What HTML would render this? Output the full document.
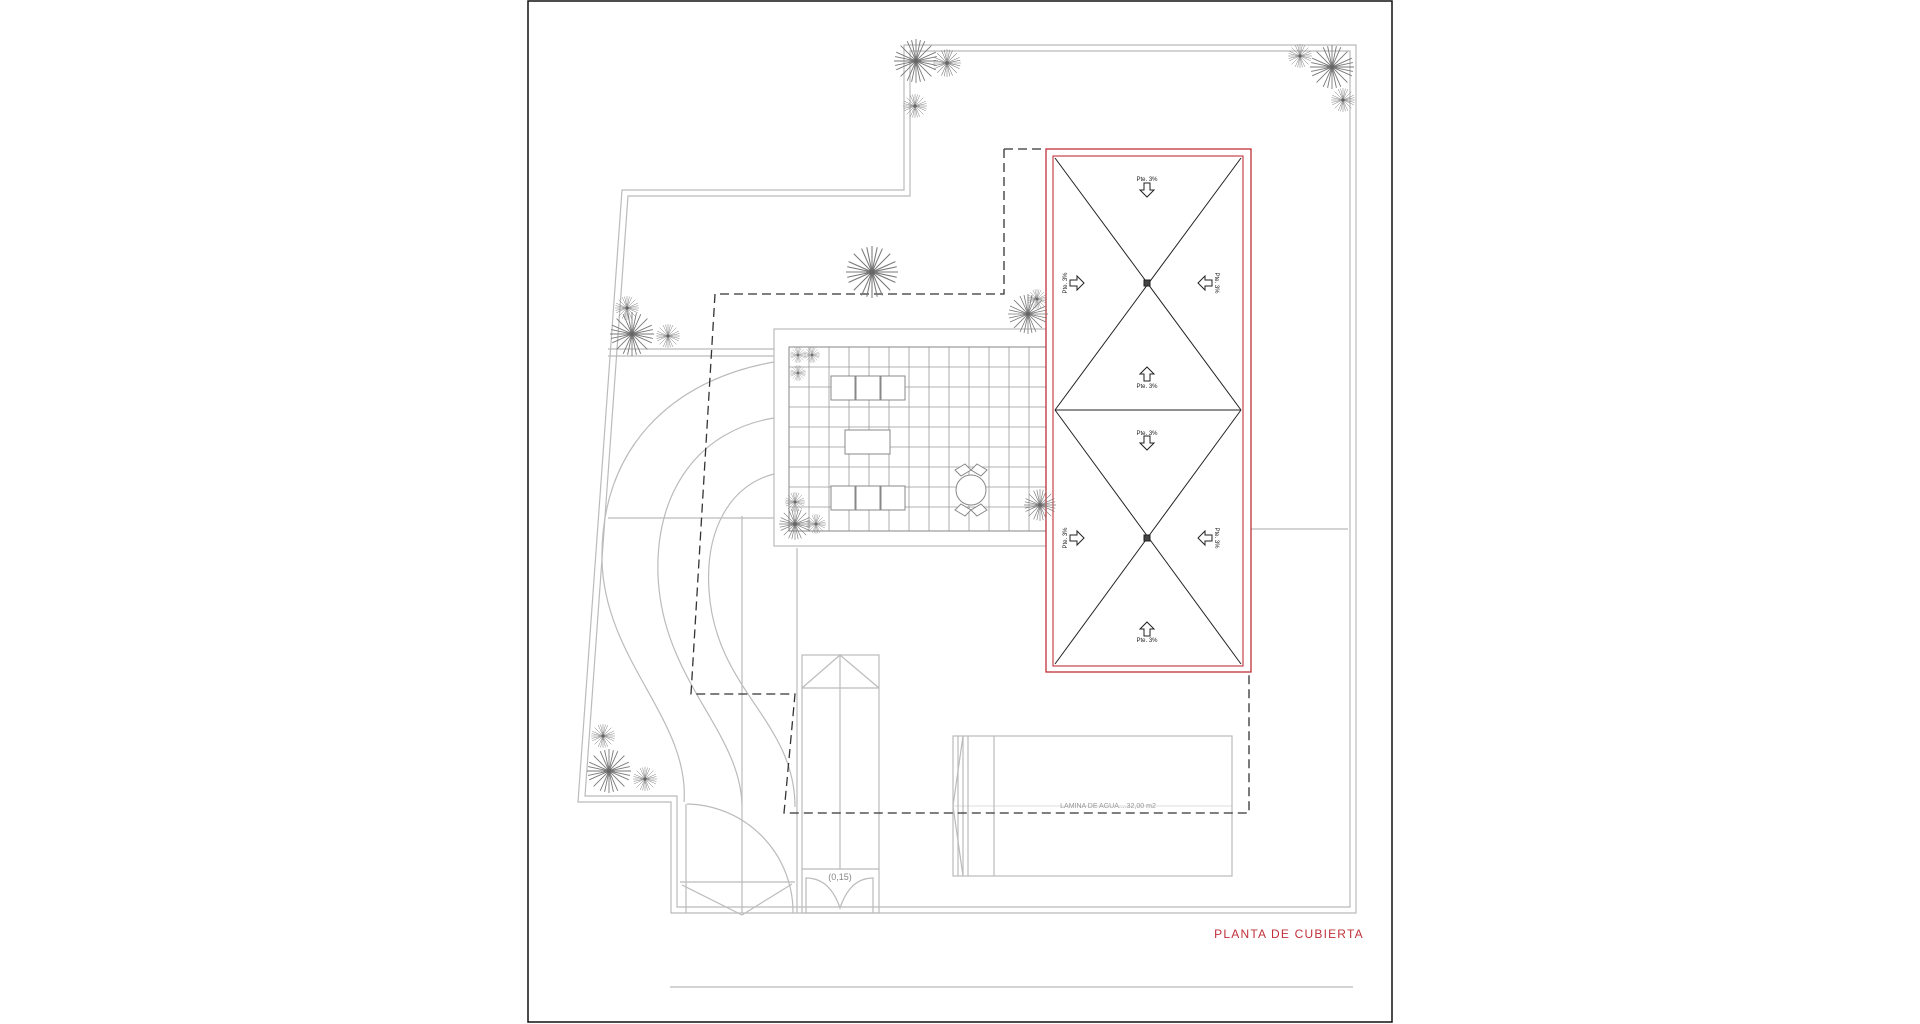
<!DOCTYPE html>
<html><head><meta charset="utf-8"><style>
html,body{margin:0;padding:0;background:#fff;width:1920px;height:1024px;overflow:hidden}
svg{display:block}
text{font-family:"Liberation Sans",sans-serif}
</style></head><body>
<svg width="1920" height="1024" viewBox="0 0 1920 1024" xmlns="http://www.w3.org/2000/svg">
<defs>
<g id="pl" stroke="#777" stroke-width="0.8">
<line x1="-20" y1="0" x2="20" y2="0"/><line x1="0" y1="-20" x2="0" y2="20"/>
<line x1="-14" y1="-14" x2="14" y2="14"/><line x1="-14" y1="14" x2="14" y2="-14"/>
<line x1="-18" y1="-8" x2="18" y2="8"/><line x1="-18" y1="8" x2="18" y2="-8"/>
<line x1="-8" y1="-18" x2="8" y2="18"/><line x1="-8" y1="18" x2="8" y2="-18"/>
<line x1="-19" y1="-4" x2="19" y2="4"/><line x1="-4" y1="-19" x2="4" y2="19"/>
<line x1="-19" y1="4" x2="19" y2="-4"/><line x1="-4" y1="19" x2="4" y2="-19"/>
<circle r="2.5" fill="#666"/>
</g>
<g id="ad" fill="#fff" stroke="#222" stroke-width="1"><path d="M-3,-7 H3 V0 H7 L0,7 L-7,0 H-3 Z"/></g>
</defs>
<rect x="528" y="1" width="864" height="1021" fill="none" stroke="#111" stroke-width="1.5"/>
<g fill="none" stroke="#bbb" stroke-width="1.2">
<path d="M622,190 L904,190 L904,45 L1356,45 L1356,913 L671,913 L671,802 L578,802 Z"/>
<path d="M628,196 L910,196 L910,51 L1350,51 L1350,907 L677,907 L677,796 L585,796 Z"/>
<line x1="608" y1="349" x2="774" y2="349"/><line x1="608" y1="356" x2="774" y2="356"/>
<line x1="608" y1="518" x2="774" y2="518"/>
<line x1="1251" y1="529" x2="1348" y2="529"/>
<path d="M774,362 C670,380 600,450 602,560 C604,660 690,720 684,802"/>
<path d="M774,418 C700,430 655,490 658,575 C662,680 740,730 742,805"/>
<path d="M774,474 C730,485 705,530 709,590 C715,690 795,720 795,807"/>
<line x1="742" y1="516" x2="742" y2="913"/>
<line x1="797" y1="548" x2="797" y2="913"/>
<path d="M687,804 A108,108 0 0 1 793,913"/>
<line x1="680" y1="882" x2="795" y2="882"/>
<path d="M682,885 L742,915 L792,884"/>
<line x1="686" y1="804" x2="686" y2="913"/>
<rect x="802" y="655" width="77" height="258"/>
<line x1="802" y1="688" x2="879" y2="688"/>
<path d="M802,688 L840,655 L879,688"/>
<line x1="840" y1="655" x2="840" y2="869"/>
<line x1="802" y1="869" x2="879" y2="869"/>
<path d="M806,913 V878 Q830,878 840,908 Q850,878 873,878 V913"/>
<rect x="774" y="329" width="272" height="217"/>
<rect x="953" y="736" width="279" height="140"/>
<line x1="958" y1="736" x2="958" y2="876"/><line x1="963" y1="736" x2="963" y2="876"/><line x1="968" y1="736" x2="968" y2="876"/>
<line x1="994" y1="736" x2="994" y2="876"/>
<path d="M963,736 L953,806 L963,876"/>
<line x1="953" y1="806" x2="1232" y2="806" stroke-width="0.5"/>
<line x1="670" y1="987" x2="1353" y2="987"/>
</g>
<g stroke="#999" stroke-width="0.8" fill="none">
<rect x="789" y="347" width="257" height="184" stroke="#666"/>
<path d="M809,347V531M829,347V531M849,347V531M869,347V531M889,347V531M909,347V531M929,347V531M949,347V531M969,347V531M989,347V531M1009,347V531M1029,347V531"/>
<path d="M789,367H1046M789,387H1046M789,407H1046M789,427H1046M789,447H1046M789,467H1046M789,487H1046M789,507H1046"/>
</g>
<g fill="#fff" stroke="#888" stroke-width="1">
<rect x="831" y="376" width="24" height="24"/><rect x="856" y="376" width="24" height="24"/><rect x="881" y="376" width="24" height="24"/>
<rect x="831" y="486" width="24" height="24"/><rect x="856" y="486" width="24" height="24"/><rect x="881" y="486" width="24" height="24"/>
<rect x="845" y="430" width="45" height="24"/>
<path d="M955,470 l10,-6 6,6 -10,6Z M987,470 l-10,-6 -6,6 10,6Z M955,510 l10,6 6,-6 -10,-6Z M987,510 l-10,6 -6,-6 10,-6Z"/>
<circle cx="971" cy="490" r="15"/>
</g>
<path d="M1004,149 L1046,149 M1004,149 L1004,294 L715,294 L691,694 L795,694 L784,813 L1249,813 L1249,672" fill="none" stroke="#333" stroke-width="1.3" stroke-dasharray="9,5"/>
<rect x="1046" y="149" width="205" height="523" fill="#fff" stroke="#c0313a" stroke-width="1.3"/>
<rect x="1053" y="156" width="190" height="510" fill="none" stroke="#c0313a" stroke-width="1.1"/>
<g stroke="#222" stroke-width="1" fill="none">
<path d="M1055,158 L1241,410 M1241,158 L1055,410 M1055,410 H1241 M1055,410 L1241,664 M1241,410 L1055,664"/>
<rect x="1144" y="280" width="6" height="6" fill="#444"/><rect x="1144" y="535" width="6" height="6" fill="#444"/>
</g>
<use href="#ad" x="1147" y="190"/><use href="#ad" x="1147" y="443"/>
<use href="#ad" transform="translate(1147,374) rotate(180)"/><use href="#ad" transform="translate(1147,629) rotate(180)"/>
<use href="#ad" transform="translate(1077,283) rotate(-90)"/><use href="#ad" transform="translate(1077,538) rotate(-90)"/>
<use href="#ad" transform="translate(1205,283) rotate(90)"/><use href="#ad" transform="translate(1205,538) rotate(90)"/>
<g font-size="6" fill="#222" text-anchor="middle">
<text x="1147" y="181">Pte. 3%</text><text x="1147" y="388">Pte. 3%</text>
<text x="1147" y="435">Pte. 3%</text><text x="1147" y="642">Pte. 3%</text>
<text transform="translate(1067,283) rotate(-90)">Pte. 3%</text><text transform="translate(1067,538) rotate(-90)">Pte. 3%</text>
<text transform="translate(1215,283) rotate(90)">Pte. 3%</text><text transform="translate(1215,538) rotate(90)">Pte. 3%</text>
</g>
<text x="1108" y="808" font-size="7" fill="#999" text-anchor="middle">LAMINA DE AGUA....32,00 m2</text>
<text x="840" y="880" font-size="9" fill="#888" text-anchor="middle">(0,15)</text>
<text x="1289" y="938" font-size="12" fill="#c0313a" text-anchor="middle" letter-spacing="1.2">PLANTA DE CUBIERTA</text>
<use href="#pl" transform="translate(916,61) scale(1.1)"/><use href="#pl" transform="translate(947,63) scale(0.7)"/><use href="#pl" transform="translate(915,106) scale(0.6)"/>
<use href="#pl" transform="translate(1332,67) scale(1.1)"/><use href="#pl" transform="translate(1300,56) scale(0.6)"/><use href="#pl" transform="translate(1343,100) scale(0.6)"/>
<use href="#pl" transform="translate(872,272) scale(1.3)"/>
<use href="#pl" transform="translate(627,308) scale(0.6)"/><use href="#pl" transform="translate(632,334) scale(1.1)"/><use href="#pl" transform="translate(668,336) scale(0.6)"/>
<use href="#pl" transform="translate(1028,314) scale(1)"/><use href="#pl" transform="translate(1037,299) scale(0.5)"/>
<use href="#pl" transform="translate(798,355) scale(0.4)"/><use href="#pl" transform="translate(812,355) scale(0.4)"/><use href="#pl" transform="translate(798,373) scale(0.4)"/>
<use href="#pl" transform="translate(795,502) scale(0.5)"/><use href="#pl" transform="translate(795,524) scale(0.8)"/><use href="#pl" transform="translate(816,524) scale(0.5)"/>
<use href="#pl" transform="translate(1040,505) scale(0.8)"/>
<use href="#pl" transform="translate(603,736) scale(0.6)"/><use href="#pl" transform="translate(609,771) scale(1.1)"/><use href="#pl" transform="translate(645,779) scale(0.6)"/>
</svg>
</body></html>
